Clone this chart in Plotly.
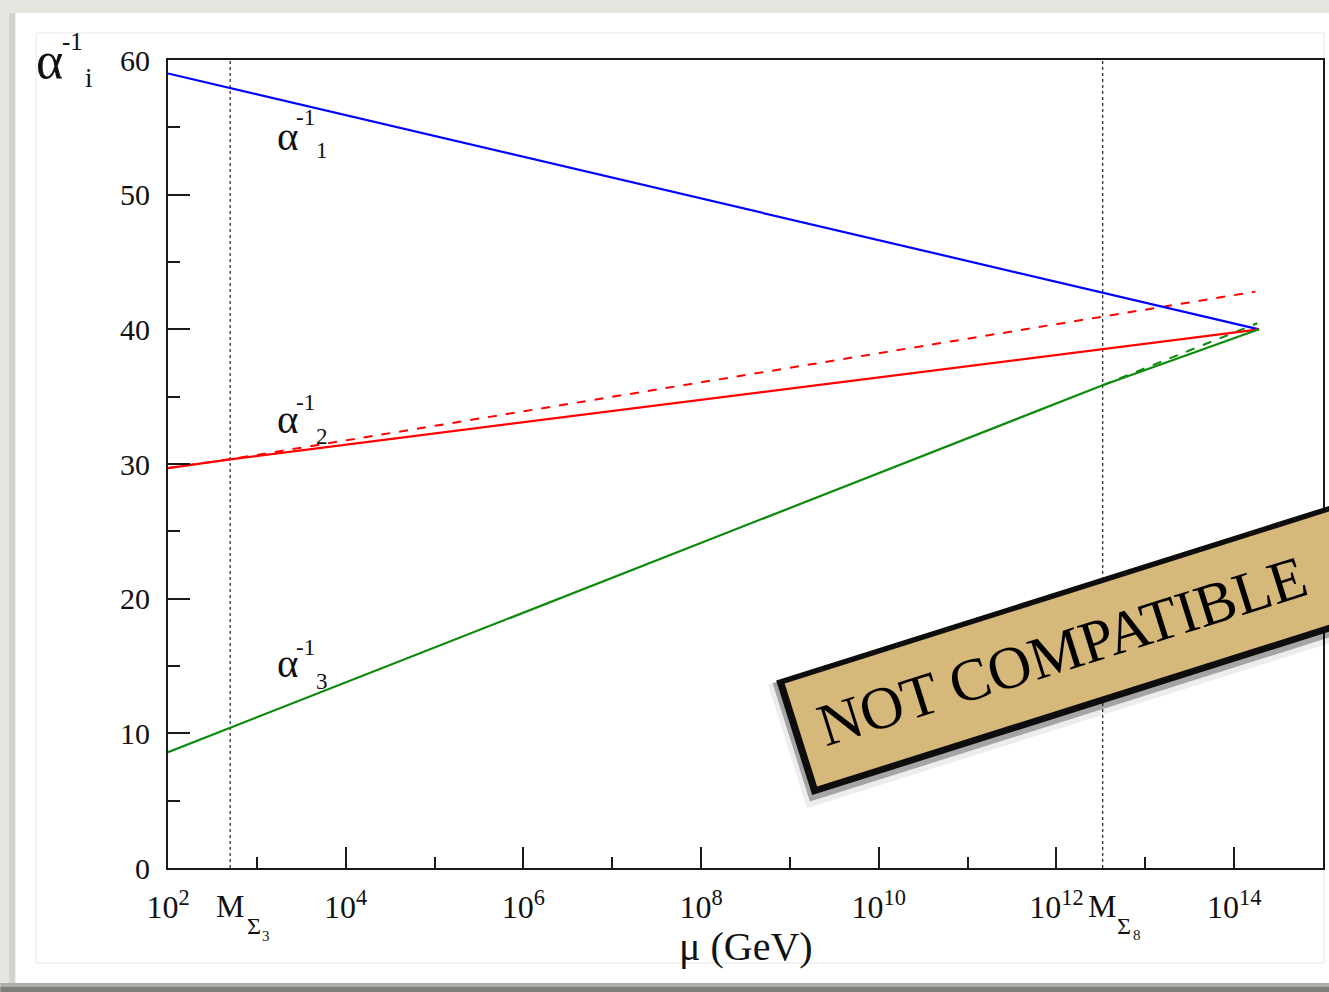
import math
import plotly.graph_objects as go

# Running inverse gauge couplings vs. energy scale (one loop, with Σ3 and Σ8 thresholds)
M_SIGMA3 = 10 ** 2.70      # GeV, triplet threshold
M_SIGMA8 = 10 ** 12.52     # GeV, octet threshold
M_GUT = 10 ** 14.28        # GeV, meeting point

mu_alpha1 = [1e2, M_GUT]
alpha1_inv = [59.0, 40.0]

mu_alpha2 = [1e2, M_SIGMA3, M_GUT]
alpha2_inv = [29.7, 30.35, 40.0]

mu_alpha2_nodec = [1e2, M_SIGMA3, 10 ** 14.24]
alpha2_inv_nodec = [29.7, 30.35, 42.8]

mu_alpha3 = [1e2, M_SIGMA8, M_GUT]
alpha3_inv = [8.6, 35.85, 40.0]

mu_alpha3_nodec = [M_SIGMA8, 10 ** 14.26]
alpha3_inv_nodec = [35.85, 40.45]

x_major_ticks = [1e2, 1e4, 1e6, 1e8, 1e10, 1e12, 1e14]
x_major_labels = ["10<sup>2</sup>", "10<sup>4</sup>", "10<sup>6</sup>", "10<sup>8</sup>",
                  "10<sup>10</sup>", "10<sup>12</sup>", "10<sup>14</sup>"]
x_minor_ticks = [1e3, 1e5, 1e7, 1e9, 1e11, 1e13]
y_major_ticks = [0, 10, 20, 30, 40, 50, 60]
y_minor_ticks = [5, 15, 25, 35, 45, 55]

SERIF = "Liberation Serif"
W, H = 1329, 992
PL, PR, PT, PB = 168, 1325, 60, 868


def fx(px):
    return (px - PL) / (PR - PL)


def fy(py):
    return (PB - py) / (PB - PT)


fig = go.Figure()

# threshold markers
for m in (M_SIGMA3, M_SIGMA8):
    fig.add_trace(go.Scatter(x=[m, m], y=[0, 60], mode="lines",
                             line=dict(color="#333333", width=1.3, dash="dot"),
                             showlegend=False, hoverinfo="skip"))

fig.add_trace(go.Scatter(x=mu_alpha2_nodec, y=alpha2_inv_nodec, mode="lines",
                         line=dict(color="#ff0000", width=2, dash="dash"), showlegend=False))
fig.add_trace(go.Scatter(x=mu_alpha3_nodec, y=alpha3_inv_nodec, mode="lines",
                         line=dict(color="#0b8a0b", width=2, dash="dash"), showlegend=False))
fig.add_trace(go.Scatter(x=mu_alpha1, y=alpha1_inv, mode="lines",
                         line=dict(color="#0000ff", width=2.2), showlegend=False))
fig.add_trace(go.Scatter(x=mu_alpha2, y=alpha2_inv, mode="lines",
                         line=dict(color="#ff0000", width=2.2), showlegend=False))
fig.add_trace(go.Scatter(x=mu_alpha3, y=alpha3_inv, mode="lines",
                         line=dict(color="#0b8a0b", width=2.2), showlegend=False))

shapes = []


def prect(x0, y0, x1, y1, fill, line=None, layer="below"):
    d = dict(type="rect", xref="paper", yref="paper",
             x0=fx(x0), x1=fx(x1), y0=fy(y0), y1=fy(y1),
             fillcolor=fill, layer=layer)
    d["line"] = line if line else dict(width=0)
    return d


# page background, drop shadows and inner frame
shapes.append(prect(15, 13, 1345, 983, "#ffffff"))
shapes.append(prect(9, 13, 15, 983, "#d3d2cc"))
shapes.append(prect(0, 983, 1345, 987, "#aeaea8"))
shapes.append(prect(0, 987, 1345, 995, "#7e7e79"))
shapes.append(dict(type="rect", xref="paper", yref="paper", layer="below",
                   x0=fx(36), x1=fx(1326), y0=fy(33), y1=fy(963),
                   line=dict(color="#e6e6e6", width=1), fillcolor="rgba(0,0,0,0)"))


# rotated stamp band
def band_path(cx, cy, length, height, ang_deg, grow=0.0, dx=0.0, dy=0.0):
    a = math.radians(ang_deg)
    ux, uy = math.cos(a), -math.sin(a)
    nx, ny = -math.sin(a), -math.cos(a)
    lx, ly = cx - ux * grow + dx, cy - uy * grow + dy
    L = length + 2 * grow
    h = height / 2 + grow
    pts = [(lx + nx * h, ly + ny * h),
           (lx + ux * L + nx * h, ly + uy * L + ny * h),
           (lx + ux * L - nx * h, ly + uy * L - ny * h),
           (lx - nx * h, ly - ny * h)]
    return "M " + " L ".join(f"{fx(px):.5f},{fy(py):.5f}" for px, py in pts) + " Z"


ANG = 17.5
BX, BY, BLEN, BH = 802, 735, 720, 108
shapes.append(dict(type="path", xref="paper", yref="paper", layer="above",
                   path=band_path(BX, BY, BLEN, BH, ANG, grow=11, dx=-3, dy=8),
                   fillcolor="rgba(0,0,0,0.07)", line=dict(width=0)))
shapes.append(dict(type="path", xref="paper", yref="paper", layer="above",
                   path=band_path(BX, BY, BLEN, BH, ANG, grow=8, dx=-2, dy=5),
                   fillcolor="rgba(0,0,0,0.30)", line=dict(width=0)))
shapes.append(dict(type="path", xref="paper", yref="paper", layer="above",
                   path=band_path(BX, BY, BLEN, BH, ANG, grow=6, dx=-1, dy=1),
                   fillcolor="#0d0d0d", line=dict(width=0)))
shapes.append(dict(type="path", xref="paper", yref="paper", layer="above",
                   path=band_path(BX, BY, BLEN, BH, ANG),
                   fillcolor="#d7b87b", line=dict(width=0)))

annotations = []


def label(px, py, text, size):
    annotations.append(dict(xref="paper", yref="paper", x=fx(px), y=fy(py),
                            text=text, showarrow=False, xanchor="center", yanchor="middle",
                            font=dict(family=SERIF, size=size, color="#111111")))


# y-axis title α^-1_i
label(49, 60, "α", 52)
label(72, 42, "-1", 25)
label(89, 78, "i", 27)

# curve labels
for (ya, ysup, ysub, sub) in [(136, 118, 150, "1"), (419, 402, 436, "2"), (663, 647, 681, "3")]:
    label(288, ya, "α", 41)
    label(306, ysup, "-1", 23)
    label(322, ysub, sub, 23)

# threshold tick labels
label(230, 906, "M", 32)
label(254, 926, "Σ", 24)
label(266, 936, "3", 15)
label(1104, 906, "M", 32)
label(1126, 926, "Σ", 24)
label(1139, 935, "8", 15)

# x-axis title
label(747, 946, "μ (GeV)", 40)

# stamp text
annotations.append(dict(xref="paper", yref="paper", x=fx(1064), y=fy(651),
                        text="NOT COMPATIBLE", showarrow=False, textangle=-ANG,
                        xanchor="center", yanchor="middle",
                        font=dict(family=SERIF, size=60, color="#000000")))

fig.update_layout(
    width=W, height=H, autosize=False,
    margin=dict(l=PL, r=W - PR, t=PT, b=H - PB, pad=0),
    paper_bgcolor="#e6e4de", plot_bgcolor="#ffffff",
    shapes=shapes, annotations=annotations,
    showlegend=False,
    font=dict(family=SERIF, color="#111111"),
)

fig.update_xaxes(
    type="log", range=[2, 15],
    showgrid=False, zeroline=False,
    showline=True, mirror=True, linecolor="#1a1a1a", linewidth=2,
    ticks="inside", ticklen=21, tickwidth=1.6, tickcolor="#1a1a1a",
    tickvals=x_major_ticks, ticktext=x_major_labels,
    tickfont=dict(family=SERIF, size=32, color="#111111"),
    ticklabelstandoff=10,
    minor=dict(tickvals=x_minor_ticks, ticks="inside", ticklen=11,
               tickwidth=1.6, tickcolor="#1a1a1a", showgrid=False),
)
fig.update_yaxes(
    range=[0, 60],
    showgrid=False, zeroline=False,
    showline=True, mirror=True, linecolor="#1a1a1a", linewidth=2,
    ticks="inside", ticklen=22, tickwidth=1.6, tickcolor="#1a1a1a",
    tickvals=y_major_ticks,
    tickfont=dict(family=SERIF, size=30, color="#111111"),
    ticklabelstandoff=10,
    minor=dict(tickvals=y_minor_ticks, ticks="inside", ticklen=12,
               tickwidth=1.6, tickcolor="#1a1a1a", showgrid=False),
)

fig.write_html("out.html")
